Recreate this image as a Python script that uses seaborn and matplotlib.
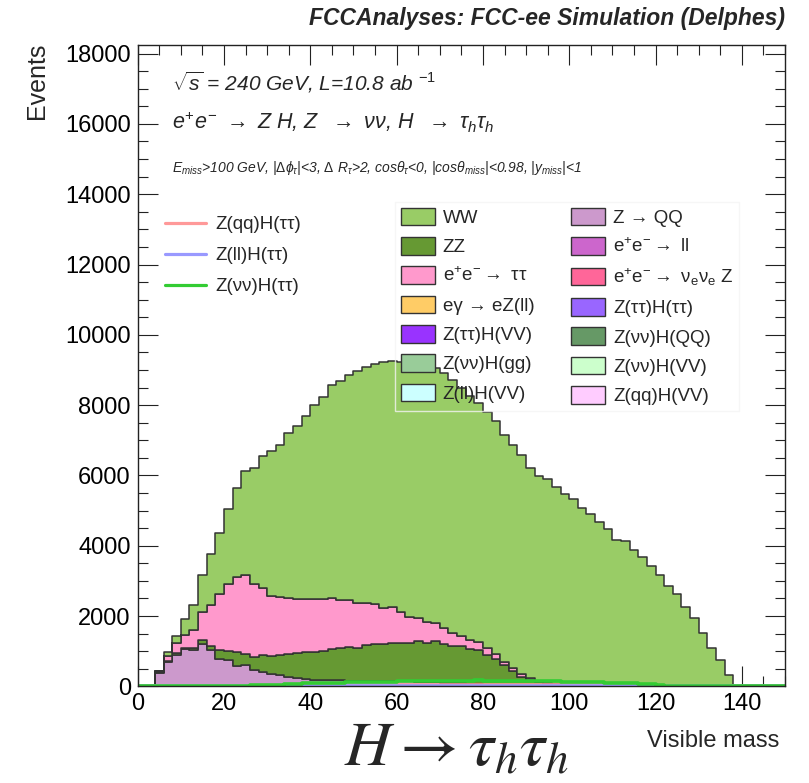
import numpy as np
import pandas as pd
import matplotlib
matplotlib.use("Agg")
import matplotlib.pyplot as plt
import seaborn as sns
from matplotlib.patches import Patch
from matplotlib.lines import Line2D
from matplotlib.ticker import MultipleLocator

# ---------------------------------------------------------------- data
# visible mass binning: 75 bins of 2 GeV between 0 and 150 GeV
bin_edges = [float(b) for b in range(0, 152, 2)]
bin_centers = [b + 1.0 for b in bin_edges[:-1]]

# stacked backgrounds, events per bin
ww = [0, 0, 0, 102, 217, 461, 698, 1037, 1454, 1740,
      2152, 2540, 2963, 3309, 3769, 4132, 4323, 4704, 4913, 5227,
      5511, 5747, 6057, 6237, 6408, 6588, 6730, 6833, 6995, 6996,
      7117, 7220, 7216, 7280, 7255, 7255, 7189, 7060, 6952, 6781,
      6719, 6635, 6447, 6341, 6228, 5968, 5821, 5786, 5618, 5439,
      5308, 5062, 4901, 4673, 4465, 4162, 4133, 3877, 3668, 3430,
      3158, 2850, 2630, 2265, 1930, 1515, 1090, 740, 310, 0,
      0, 0, 0, 0, 0]
zz = [0, 0, 20, 30, 40, 50, 70, 123, 117, 263,
      265, 398, 309, 365, 480, 533, 571, 645, 710, 778,
      805, 830, 877, 930, 963, 940, 1015, 1039, 1063, 1082,
      1087, 1102, 1159, 1122, 1170, 1113, 1066, 1067, 991, 973,
      840, 737, 576, 410, 253, 165, 110, 60, 35, 20,
      0, 0, 0, 0, 0, 0, 0, 0, 0, 0,
      0, 0, 0, 0, 0, 0, 0, 0, 0, 0,
      0, 0, 0, 0, 0]
ee_tautau = [0, 0, 30, 155, 283, 359, 512, 805, 1153, 1587,
             1895, 2132, 2251, 2075, 1890, 1687, 1639, 1590, 1550, 1492,
             1490, 1480, 1451, 1355, 1327, 1279, 1185, 1139, 1006, 1033,
             891, 738, 645, 578, 512, 437, 370, 293, 257, 237,
             191, 133, 94, 77, 77, 70, 40, 30, 20, 10,
             10, 0, 0, 0, 0, 0, 0, 0, 0, 0,
             0, 0, 0, 0, 0, 0, 0, 0, 0, 0,
             0, 0, 0, 0, 0]
z_qq = [0, 0, 380, 680, 900, 1050, 1020, 1195, 1030, 770,
        740, 580, 600, 460, 420, 340, 320, 275, 230, 200,
        185, 180, 175, 170, 165, 160, 160, 155, 150, 150,
        145, 140, 130, 120, 110, 100, 90, 80, 70, 60,
        50, 40, 30, 25, 20, 15, 10, 10, 5, 0,
        0, 0, 0, 0, 0, 0, 0, 0, 0, 0,
        0, 0, 0, 0, 0, 0, 0, 0, 0, 0,
        0, 0, 0, 0, 0]
zeros = [0] * 75
ee_ll = zeros
ee_nunuz = zeros
egamma_ezll = zeros
ztautau_htautau = zeros
ztautau_hvv = zeros
znunu_hqq = zeros
znunu_hgg = zeros
znunu_hvv = zeros
zll_hvv = zeros
zqq_hvv = zeros

# signal histograms (drawn as lines)
zqq_htautau = [0] * 30 + [25] * 25 + [0] * 20
zll_htautau = [0] * 13 + [8] * 48 + [0] * 14
znunu_htautau = [0, 0, 0, 0, 0, 0, 0, 0, 0, 0,
                 0, 0, 0, 30, 40, 45, 50, 60, 70, 80,
                 90, 95, 100, 105, 110, 115, 120, 125, 130, 135,
                 140, 145, 150, 150, 155, 160, 160, 165, 165, 170,
                 165, 165, 160, 160, 155, 150, 150, 145, 140, 135,
                 130, 125, 120, 115, 105, 100, 90, 80, 70, 55,
                 40, 0, 0, 0, 0, 0, 0, 0, 0, 0,
                 0, 0, 0, 0, 0]

# process names, from the top of the stack down to the bottom
stack_procs = {
    "WW": ww,
    "e⁺e⁻→ ττ": ee_tautau,
    "ZZ": zz,
    "Z → QQ": z_qq,
    "Z(qq)H(VV)": zqq_hvv,
    "Z(νν)H(VV)": znunu_hvv,
    "Z(νν)H(QQ)": znunu_hqq,
    "Z(ττ)H(ττ)": ztautau_htautau,
    "e⁺e⁻→ νeνe Z": ee_nunuz,
    "e⁺e⁻→ ll": ee_ll,
    "Z(ll)H(VV)": zll_hvv,
    "Z(νν)H(gg)": znunu_hgg,
    "Z(ττ)H(VV)": ztautau_hvv,
    "eγ → eZ(ll)": egamma_ezll,
}
colors = {
    "WW": "#99CC66", "ZZ": "#669933", "e⁺e⁻→ ττ": "#FF99CC",
    "eγ → eZ(ll)": "#FFCC66", "Z(ττ)H(VV)": "#9933FF", "Z(νν)H(gg)": "#99CC99",
    "Z(ll)H(VV)": "#CCFFFF", "Z → QQ": "#CC99CC", "e⁺e⁻→ ll": "#CC66CC",
    "e⁺e⁻→ νeνe Z": "#FF6699", "Z(ττ)H(ττ)": "#9966FF", "Z(νν)H(QQ)": "#669966",
    "Z(νν)H(VV)": "#CCFFCC", "Z(qq)H(VV)": "#FFCCFF",
}
legend_labels = {
    "e⁺e⁻→ ττ": r"e$^{+}$e$^{-}$$\rightarrow$ ττ",
    "e⁺e⁻→ ll": r"e$^{+}$e$^{-}$$\rightarrow$ ll",
    "e⁺e⁻→ νeνe Z": r"e$^{+}$e$^{-}$$\rightarrow$ ν$_{\mathrm{e}}$ν$_{\mathrm{e}}$ Z",
}
legend_order = ["WW", "ZZ", "e⁺e⁻→ ττ", "eγ → eZ(ll)", "Z(ττ)H(VV)", "Z(νν)H(gg)",
                "Z(ll)H(VV)", "Z → QQ", "e⁺e⁻→ ll", "e⁺e⁻→ νeνe Z", "Z(ττ)H(ττ)",
                "Z(νν)H(QQ)", "Z(νν)H(VV)", "Z(qq)H(VV)"]

signals = {
    "Z(qq)H(ττ)": (zqq_htautau, "#FF9999"),
    "Z(ll)H(ττ)": (zll_htautau, "#9999FF"),
    "Z(νν)H(ττ)": (znunu_htautau, "#33CC33"),
}

# ---------------------------------------------------------------- style
sns.set_style("ticks")
plt.rcParams["font.family"] = ["Liberation Sans", "DejaVu Sans"]
plt.rcParams["mathtext.fontset"] = "custom"
plt.rcParams["mathtext.rm"] = "Liberation Sans"
plt.rcParams["mathtext.it"] = "Liberation Sans:italic"
plt.rcParams["mathtext.bf"] = "Liberation Sans:bold"
plt.rcParams["mathtext.sf"] = "Liberation Sans"

W, H = 809, 783
fig = plt.figure(figsize=(W / 100, H / 100), dpi=100)
ax_l, ax_r, ax_t, ax_b = 137.7, 785.0, 45.0, 686.3
ax = fig.add_axes([ax_l / W, 1 - ax_b / H, (ax_r - ax_l) / W, (ax_b - ax_t) / H])

def fx(px):
    return px / W

def fy(py):
    return 1 - py / H

# ---------------------------------------------------------------- stack
bkg = pd.DataFrame([
    {"mass": c, "events": v, "process": name}
    for name, vals in stack_procs.items()
    for c, v in zip(bin_centers, vals)
])
sns.histplot(data=bkg, x="mass", weights="events", hue="process",
             hue_order=list(stack_procs.keys()), palette=colors,
             multiple="stack", bins=bin_edges, element="step", fill=True,
             alpha=1, edgecolor="#333333", linewidth=1.1, legend=False, ax=ax)

for name, (vals, col) in signals.items():
    sig = pd.DataFrame({"mass": bin_centers, "events": vals})
    sns.histplot(data=sig, x="mass", weights="events", bins=bin_edges,
                 element="step", fill=False, color=col, linewidth=2.6, ax=ax)

ax.set_xlim(0, 150)
ax.set_ylim(0, 18245)
ax.set_xlabel("")
ax.set_ylabel("")
ax.xaxis.set_major_locator(MultipleLocator(20))
ax.xaxis.set_minor_locator(MultipleLocator(5))
ax.yaxis.set_major_locator(MultipleLocator(2000))
ax.yaxis.set_minor_locator(MultipleLocator(500))
ax.tick_params(which="both", direction="in", top=True, right=True,
               width=0.8, colors="#222222", labelcolor="black", labelsize=17, pad=5)
ax.tick_params(which="major", length=14.5)
ax.tick_params(which="minor", length=7.5)
for sp in ax.spines.values():
    sp.set_linewidth(1.0)
    sp.set_color("#222222")

# ---------------------------------------------------------------- legends
sig_handles = [Line2D([0], [0], color=col, lw=2.3) for _, (v, col) in signals.items()]
leg1 = ax.legend(sig_handles, list(signals.keys()), loc="upper left",
                 bbox_to_anchor=(fx(165), fy(216)), bbox_transform=fig.transFigure,
                 frameon=False, fontsize=13.5, handlelength=2.19, handletextpad=0.48,
                 labelspacing=0.74, borderpad=0, borderaxespad=0)
ax.add_artist(leg1)

bkg_handles = [Patch(facecolor=colors[n], edgecolor="#333333", linewidth=1.0)
               for n in legend_order]
bkg_labels = [legend_labels.get(n, n) for n in legend_order]
leg2 = ax.legend(bkg_handles, bkg_labels, loc="upper left", ncol=2,
                 bbox_to_anchor=(fx(395), fy(202)), bbox_transform=fig.transFigure,
                 fontsize=13.5, handlelength=1.81, handleheight=1.07, handletextpad=0.43,
                 labelspacing=0.54, columnspacing=1.97, borderpad=0.3, borderaxespad=0,
                 fancybox=False, frameon=True)
leg2.get_frame().set_facecolor("none")
leg2.get_frame().set_edgecolor("#F4F4F4")
leg2.get_frame().set_linewidth(1.0)

# ---------------------------------------------------------------- texts
fig.text(fx(785), fy(18), "FCCAnalyses: FCC-ee Simulation (Delphes)",
         ha="right", va="center", fontsize=16.5, fontweight="bold", fontstyle="italic")
fig.text(fx(172), fy(82), r"$\sqrt{s}$ = 240 GeV, L=10.8 ab $^{-1}$",
         ha="left", va="center", fontsize=15, fontstyle="italic")
fig.text(fx(172), fy(122),
         r"$e^{+}e^{-}$ $\rightarrow$ Z H, Z  $\rightarrow$ νν, H  $\rightarrow$ $\tau_{h}\tau_{h}$",
         ha="left", va="center", fontsize=15.5, fontstyle="italic")
fig.text(fx(172), fy(168),
         r"$E_{miss}$>100 GeV, |$\Delta\phi_{\tau}$|<3, $\Delta$ $R_{\tau}$>2, cos$\theta_{\tau}$<0, "
         r"|cos$\theta_{miss}$|<0.98, |$y_{miss}$|<1",
         ha="left", va="center", fontsize=10, fontstyle="italic")
fig.text(fx(37), fy(43), "Events", rotation=90, ha="center", va="top", fontsize=18)
fig.text(fx(779), fy(741), "Visible mass", ha="right", va="center", fontsize=17)
fig.text(fx(457), fy(765), r"$H \rightarrow \tau_{h}\tau_{h}$", ha="center",
         va="baseline", fontsize=46, math_fontfamily="stix")

fig.savefig("out.png", dpi=100)
